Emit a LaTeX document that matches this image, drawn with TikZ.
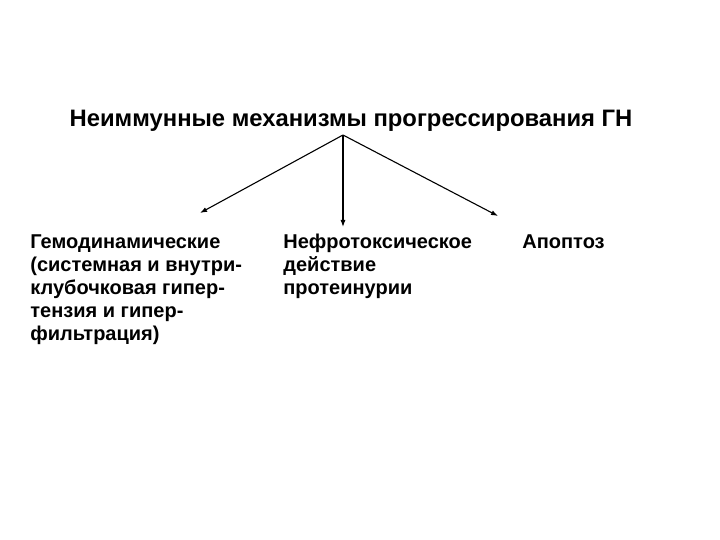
\documentclass[tikz,border=0pt]{standalone}
\usepackage{fontspec}
\setmainfont{Liberation Sans}
\usetikzlibrary{positioning}
\usetikzlibrary{arrows.meta}
\begin{document}
\begin{tikzpicture}[
	x=1pt,
	y=-1pt,
	thick,
	font=\bfseries
]
\tikzset{
    titlenode/.style = {inner sep=0, anchor=base, font=\bfseries\fontsize{23.8}{28}\selectfont},
    textnode/.style = {inner sep=0, anchor=base west, align=left, font=\bfseries\fontsize{20}{23}\selectfont},
    arrowb/.style = {-{Latex[length=7pt,width=5pt]}, line width=1.1pt}
}
\useasboundingbox (0,0) rectangle (720,540);
\node[titlenode] at (351,127) (title) {Неиммунные механизмы прогрессирования ГН};
\coordinate (top) at (343,135);
\coordinate (endl) at (200,213);
\coordinate (endm) at (343,227);
\coordinate (endr) at (498,216);
% base of the last line
\node[textnode] at (30,340) (hemo) {Гемодинамические\\(системная и внутри-\\клубочковая гипер-\\тензия и гипер-\\фильтрация)};
\node[textnode] at (283,294) (nephro) {Нефротоксическое\\действие\\протеинурии};
\node[textnode] at (522,248) (apop) {Апоптоз};
%
\draw[arrowb] (top) -- (endl);
\draw[arrowb] (top) -- (endm);
\draw[arrowb] (top) -- (endr);
\end{tikzpicture}
\end{document}
